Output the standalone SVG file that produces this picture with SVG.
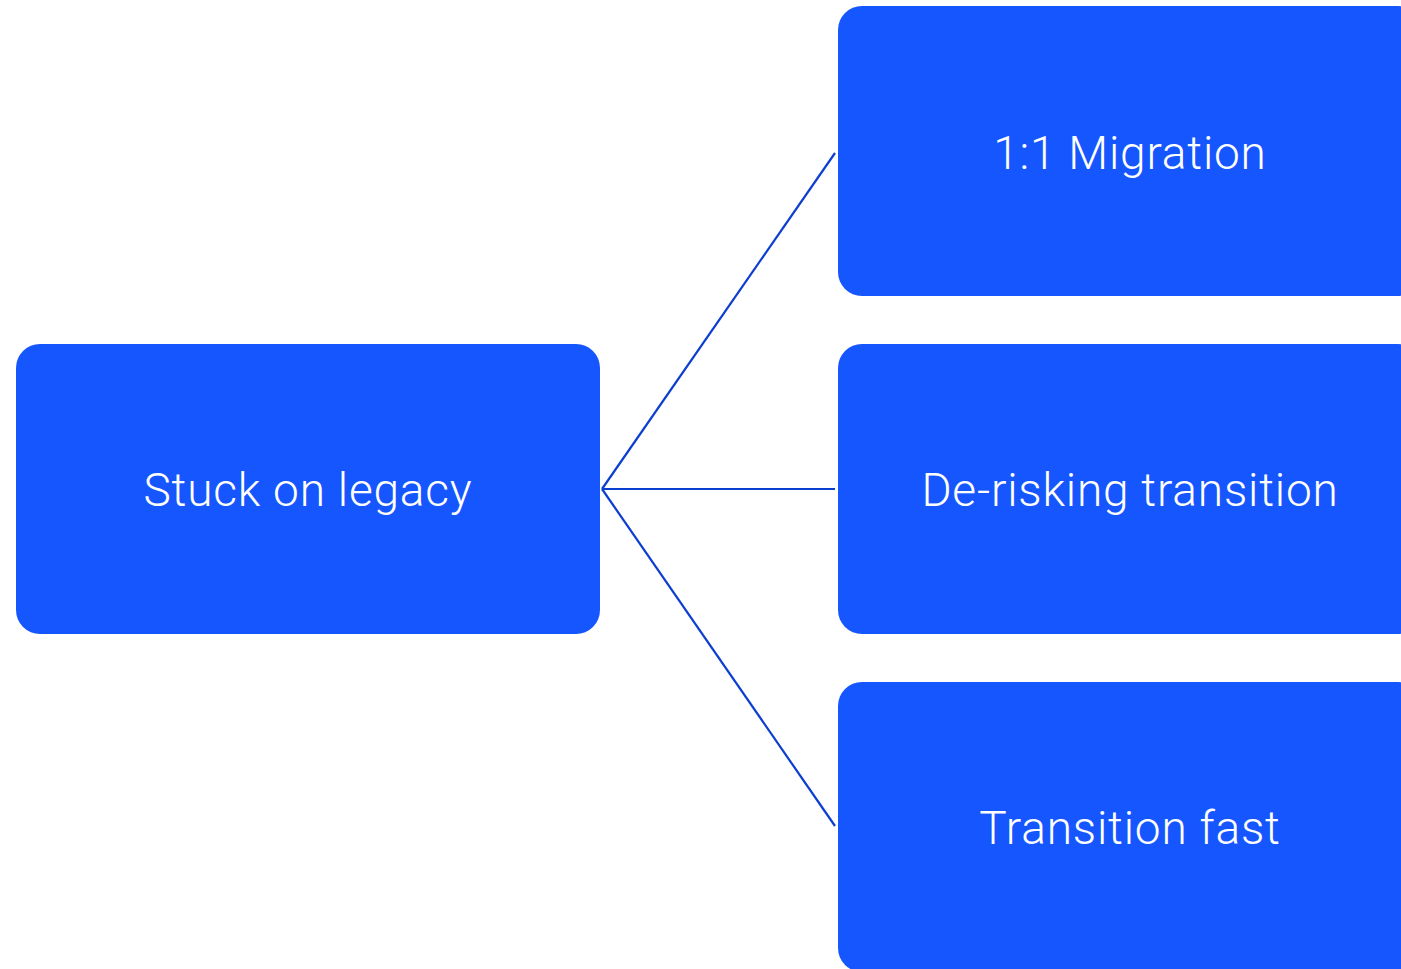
<svg xmlns="http://www.w3.org/2000/svg" width="1401" height="969" viewBox="0 0 1401 969">
<style>
.node{fill:#1656ff}
.lbl{fill:#ffffff;font-family:Roboto,"Liberation Sans",sans-serif;font-weight:300;font-size:46px;text-anchor:middle;letter-spacing:0.8px}
.edge{stroke:#0c3fd0;stroke-width:2.2;fill:none}
</style>
<rect width="1401" height="969" fill="#ffffff"/>
<g id="connectors">
<line class="edge" x1="602" y1="489" x2="835" y2="153"/>
<line class="edge" x1="602" y1="489" x2="835" y2="489"/>
<line class="edge" x1="602" y1="489" x2="835" y2="826"/>
</g>
<g id="node-legacy">
<rect class="node" x="16" y="344" width="584" height="290" rx="24"/>
<text class="lbl" x="308" y="506">Stuck on legacy</text>
</g>
<g id="node-migration">
<rect class="node" x="838" y="6" width="584" height="290" rx="24"/>
<text class="lbl" x="1130" y="169">1:1 Migration</text>
</g>
<g id="node-derisking">
<rect class="node" x="838" y="344" width="584" height="290" rx="24"/>
<text class="lbl" x="1130" y="506">De-risking transition</text>
</g>
<g id="node-fast">
<rect class="node" x="838" y="682" width="584" height="290" rx="24"/>
<text class="lbl" x="1130" y="844">Transition fast</text>
</g>
</svg>
